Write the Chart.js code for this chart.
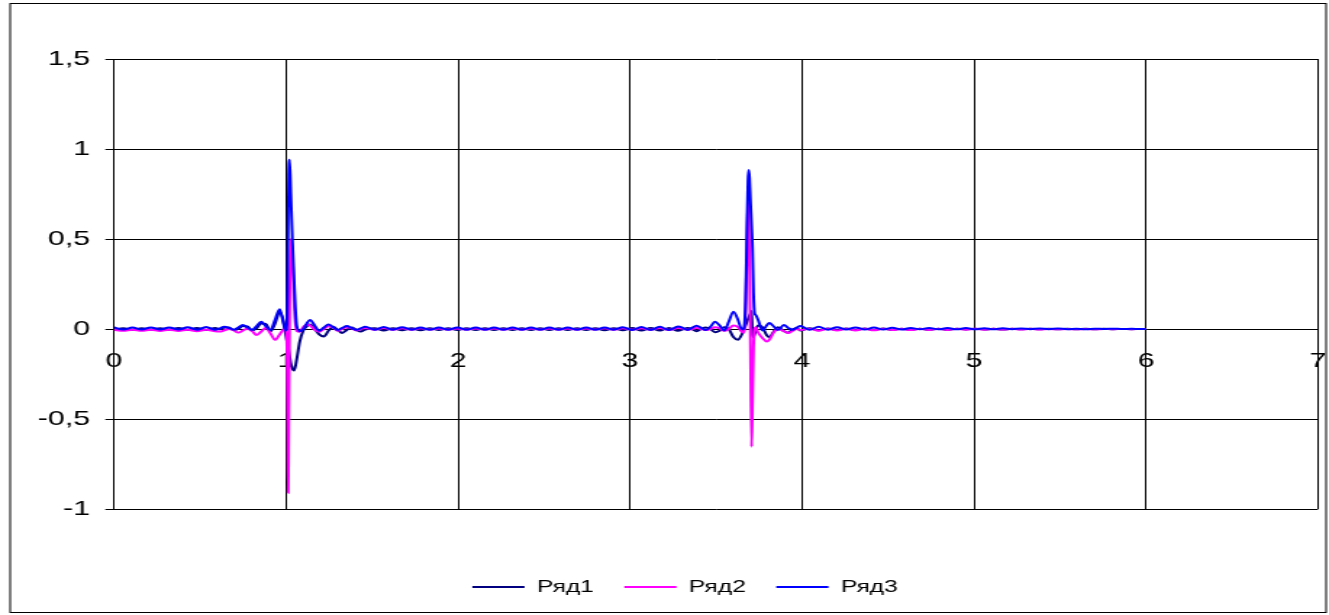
<!DOCTYPE html>
<html>
<head>
<meta charset="utf-8">
<script src="https://cdn.jsdelivr.net/npm/chart.js@4"></script>
<style>
    body { margin: 0; background: #fff; }
</style>
</head>
<body>
<canvas id="chart" width="917" height="615" style="display:block;width:1329px;height:615px;"></canvas>
<script>
// Data
const xValues = [
    0.000, 0.054, 0.107, 0.161, 0.214, 0.268, 0.321, 0.375, 0.428, 0.482, 0.535, 0.589,
    0.616, 0.642, 0.669, 0.696, 0.723, 0.749, 0.776, 0.803, 0.829, 0.856, 0.883, 0.910, 0.936, 0.963,
    0.985, 0.998, 1.006, 1.011, 1.013, 1.016, 1.021, 1.028, 1.037, 1.048, 1.062, 1.080, 1.100,
    1.120, 1.140, 1.167, 1.193, 1.220, 1.247, 1.274, 1.300, 1.327, 1.354, 1.381, 1.408, 1.434, 1.461,
    1.515, 1.568, 1.622, 1.675, 1.729, 1.782, 1.836, 1.889, 1.943, 1.996, 2.050, 2.103, 2.157, 2.210,
    2.264, 2.317, 2.371, 2.424, 2.478, 2.531, 2.585, 2.638, 2.692, 2.745, 2.799, 2.852, 2.906, 2.959,
    3.013, 3.066, 3.120, 3.173, 3.227, 3.280,
    3.307, 3.334, 3.360, 3.387, 3.414, 3.440, 3.467, 3.494, 3.521, 3.548, 3.574, 3.601, 3.628, 3.645, 3.660,
    3.672, 3.680, 3.686, 3.690, 3.695, 3.700, 3.707, 3.712, 3.718, 3.724, 3.731,
    3.745, 3.770, 3.795, 3.810, 3.835, 3.860, 3.895, 3.920, 3.945, 3.970, 3.990,
    4.044, 4.097, 4.151, 4.204, 4.258, 4.311, 4.365, 4.418, 4.472, 4.525, 4.579, 4.632, 4.686, 4.739,
    4.793, 4.846, 4.900, 4.953, 5.007, 5.060, 5.114, 5.167, 5.221, 5.274, 5.328, 5.381, 5.435, 5.488,
    5.542, 5.595, 5.649, 5.702, 5.756, 5.809, 5.863, 5.916, 5.970, 6.000
];

const ryad1 = [
    -0.004, 0.004, -0.004, 0.004, -0.004, 0.004, -0.004, 0.005, -0.005, 0.005, -0.005, 0.005,
    -0.002, 0.008, 0.008, -0.006, 0.000, 0.016, 0.014, -0.008, 0.004, 0.030, 0.028, -0.012, 0.030, 0.095,
    0.045, -0.030, -0.070, -0.090, -0.100, -0.120, -0.150, -0.190, -0.220, -0.230, -0.170, -0.070, -0.010,
    0.015, 0.025, 0.000, -0.030, -0.042, -0.010, 0.012, -0.005, -0.022, -0.005, 0.008, -0.004, -0.014, -0.003,
    0.004, -0.008, 0.004, -0.007, 0.004, -0.007, 0.004, -0.006, 0.004, -0.006, 0.004, -0.006, 0.004, -0.006,
    0.004, -0.006, 0.004, -0.006, 0.004, -0.006, 0.004, -0.006, 0.004, -0.006, 0.004, -0.007, 0.004, -0.007,
    0.005, -0.008, 0.005, -0.009, 0.006, -0.010,
    -0.002, 0.006, 0.000, -0.012, 0.000, 0.008, 0.000, -0.018, -0.010, 0.010, 0.000, -0.045, -0.060, -0.040, -0.010,
    0.020, 0.040, 0.055, 0.065, 0.075, 0.085, 0.100, -0.030, -0.045, -0.030, -0.005,
    0.020, 0.010, -0.035, -0.045, -0.015, 0.010, -0.012, -0.020, -0.003, 0.006, -0.008,
    0.004, -0.007, 0.003, -0.006, 0.003, -0.006, 0.003, -0.005, 0.003, -0.005, 0.002, -0.004, 0.002, -0.004,
    0.002, -0.004, 0.002, -0.003, 0.002, -0.003, 0.001, -0.003, 0.001, -0.002, 0.001, -0.002, 0.001, -0.002,
    0.001, -0.002, 0.001, -0.001, 0.001, -0.001, 0.000, -0.001, 0.000, 0.000
];

const ryad2 = [
    -0.004, -0.010, -0.004, -0.010, -0.004, -0.011, -0.004, -0.011, -0.004, -0.012, -0.004, -0.013,
    -0.014, -0.007, 0.000, -0.008, -0.020, -0.009, 0.002, -0.012, -0.033, -0.014, 0.005, -0.025, -0.060, -0.030,
    -0.002, 0.008, -0.120, -0.600, -0.910, -0.550, 0.100, 0.500, 0.420, 0.120, -0.010, -0.015, 0.010,
    0.025, 0.020, -0.005, -0.015, 0.000, 0.015, 0.008, -0.010, 0.000, 0.010, 0.004, -0.008, 0.000, 0.006,
    -0.004, 0.005, -0.004, 0.004, -0.004, 0.004, -0.003, 0.003, -0.003, 0.003, -0.003, 0.003, -0.003, 0.003,
    -0.003, 0.003, -0.003, 0.003, -0.003, 0.003, -0.003, 0.003, -0.003, 0.003, -0.003, 0.004, -0.004, 0.004,
    -0.004, 0.004, -0.004, 0.005, -0.005, 0.005,
    0.002, -0.004, 0.000, 0.006, 0.000, -0.006, 0.000, 0.010, 0.004, -0.010, 0.000, 0.020, 0.010, -0.010, -0.020,
    0.100, 0.450, 0.700, 0.650, 0.350, -0.050, -0.654, -0.400, -0.100, 0.000, 0.010,
    -0.020, -0.050, -0.070, -0.060, -0.020, 0.000, -0.012, -0.022, -0.010, 0.000, -0.006,
    0.002, -0.010, 0.002, -0.009, 0.002, -0.008, 0.002, -0.007, 0.002, -0.006, 0.001, -0.006, 0.001, -0.005,
    0.001, -0.005, 0.001, -0.004, 0.001, -0.004, 0.001, -0.003, 0.001, -0.003, 0.001, -0.003, 0.000, -0.002,
    0.000, -0.002, 0.000, -0.002, 0.000, -0.001, 0.000, -0.001, 0.000, 0.000
];

const ryad3 = [
    0.008, -0.003, 0.008, -0.003, 0.009, -0.003, 0.009, -0.003, 0.010, -0.004, 0.011, -0.004,
    0.004, 0.013, 0.005, -0.004, 0.008, 0.022, 0.008, -0.005, 0.016, 0.040, 0.015, -0.006, 0.050, 0.110,
    0.030, -0.008, 0.030, 0.450, 0.650, 0.860, 0.940, 0.750, 0.500, 0.250, 0.020, -0.012, 0.000,
    0.030, 0.050, 0.020, -0.010, 0.008, 0.025, 0.010, -0.006, 0.006, 0.016, 0.005, -0.005, 0.004, 0.012,
    -0.004, 0.011, -0.004, 0.010, -0.004, 0.009, -0.004, 0.009, -0.004, 0.008, -0.004, 0.008, -0.004, 0.008,
    -0.004, 0.008, -0.004, 0.008, -0.004, 0.008, -0.004, 0.008, -0.004, 0.009, -0.004, 0.009, -0.004, 0.010,
    -0.005, 0.011, -0.005, 0.012, -0.006, 0.014,
    0.006, -0.005, 0.006, 0.018, 0.006, -0.006, 0.012, 0.040, 0.020, -0.008, 0.040, 0.096, 0.050, 0.005, 0.000,
    0.150, 0.550, 0.820, 0.883, 0.840, 0.720, 0.570, 0.450, 0.200, 0.090, 0.078,
    0.050, -0.008, 0.020, 0.033, 0.015, -0.005, 0.022, 0.006, -0.004, 0.008, 0.016,
    -0.004, 0.012, -0.004, 0.010, -0.003, 0.009, -0.003, 0.008, -0.003, 0.007, -0.003, 0.006, -0.002, 0.006,
    -0.002, 0.005, -0.002, 0.005, -0.002, 0.004, -0.002, 0.004, -0.001, 0.003, -0.001, 0.003, -0.001, 0.003,
    -0.001, 0.002, -0.001, 0.002, 0.000, 0.002, 0.000, 0.001, 0.000, 0.000
];

const seriesNames = ['Ряд1', 'Ряд2', 'Ряд3'];
const seriesColors = ['#000080', '#FF00FF', '#0000FF'];
const yTicks = [-1, -0.5, 0, 0.5, 1, 1.5];

[ryad1, ryad2, ryad3].forEach((s, i) => {
    if (s.length !== xValues.length) throw new Error(seriesNames[i] + ' length ' + s.length + ' != ' + xValues.length);
});

function toPoints(ys) {
    return xValues.map((x, i) => ({ x: x, y: ys[i] }));
}

// white page, outer frame, and nudge the legend a bit to the right like in Excel
const framePlugin = {
    id: 'frame',
    afterLayout(chart) {
        chart.legend.left += 6;
        chart.legend.right += 6;
    },
    beforeDraw(chart) {
        const ctx = chart.ctx;
        ctx.save();
        ctx.fillStyle = '#fff';
        ctx.fillRect(0, 0, chart.width, chart.height);
        ctx.restore();
    },
    afterDraw(chart) {
        const ctx = chart.ctx;
        ctx.save();
        ctx.strokeStyle = '#000';
        ctx.lineWidth = 1;
        ctx.strokeRect(7, 3.5, 908, 609);
        ctx.restore();
    }
};

Chart.defaults.font.family = "'Liberation Sans', Arial, sans-serif";
Chart.defaults.color = '#000';

const ctx = document.getElementById('chart').getContext('2d');

new Chart(ctx, {
    type: 'scatter',
    data: {
        datasets: [ryad1, ryad2, ryad3].map((ys, i) => ({
            label: seriesNames[i],
            data: toPoints(ys),
            showLine: true,
            borderColor: seriesColors[i],
            backgroundColor: seriesColors[i],
            borderWidth: 2,
            pointRadius: 0,
            cubicInterpolationMode: 'monotone',
            order: 2 - i
        }))
    },
    options: {
        responsive: false,
        animation: false,
        events: [],
        layout: {
            padding: { left: 24, top: 59, right: 7.6, bottom: 9.5 }
        },
        plugins: {
            tooltip: { enabled: false },
            legend: {
                position: 'bottom',
                title: { display: true, text: '', font: { size: 10 }, padding: { top: 36.5, bottom: 0 } },
                labels: {
                    font: { size: 17 },
                    color: '#000',
                    usePointStyle: true,
                    pointStyle: 'line',
                    pointStyleWidth: 36,
                    boxHeight: 17,
                    padding: 21,
                    sort: (a, b) => a.datasetIndex - b.datasetIndex
                }
            }
        },
        scales: {
            x: {
                type: 'linear',
                position: { y: 0 },
                min: 0,
                max: 7,
                ticks: { stepSize: 1, font: { size: 21 }, padding: 0, color: '#000' },
                grid: { color: '#000', lineWidth: 1, tickLength: 20 },
                border: { color: '#000', width: 1 }
            },
            y: {
                min: -1,
                max: 1.5,
                afterBuildTicks: (scale) => { scale.ticks = yTicks.map(v => ({ value: v })); },
                afterFit: (scale) => { scale.width = 54.66; },
                ticks: {
                    font: { size: 21 },
                    padding: 10.5,
                    color: '#000',
                    callback: (v) => String(v).replace('.', ',')
                },
                grid: { color: '#000', lineWidth: 1, tickLength: 6 },
                border: { color: '#000', width: 1 }
            }
        }
    },
    plugins: [framePlugin]
});
</script>
</body>
</html>
